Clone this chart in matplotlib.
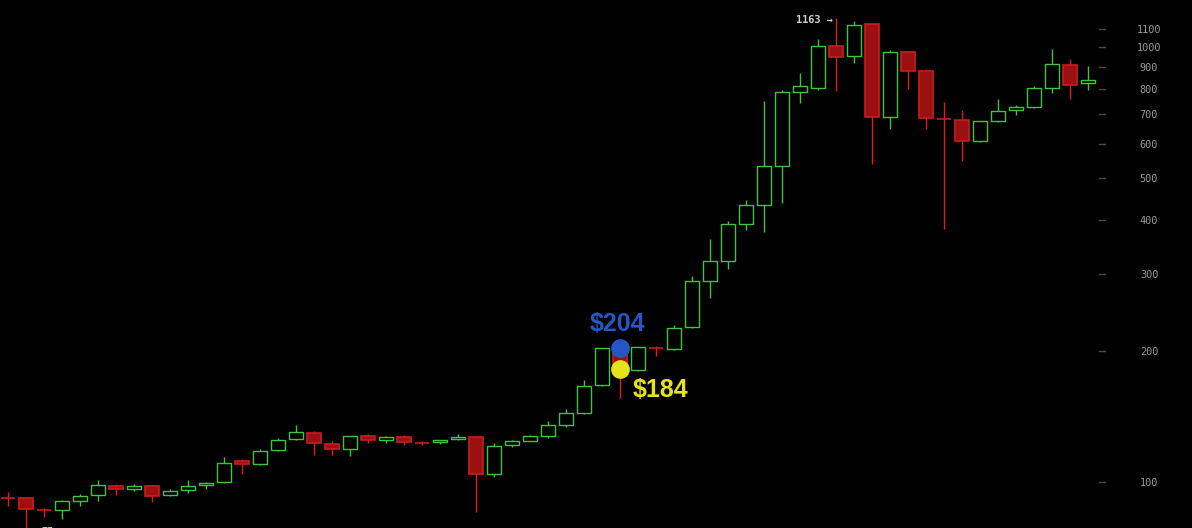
import numpy as np
import matplotlib.pyplot as plt

# OHLC, one candle per period (USD)
opens = [91.7, 91.7, 86.4, 86.1, 90.3, 93.2, 97.7, 96.2, 97.7, 93.2,
         95.7, 98.3, 99.8, 111.6, 109.8, 118.3, 125.3, 129.4, 122.1, 118.9,
         127.4, 124.7, 126.7, 122.7, 123.4, 125.3, 126.7, 104.2, 121.4, 124.3,
         127.8, 135.4, 144.3, 166.8, 203.5, 180.6, 203.0, 202.5, 227.5, 290.3,
         322.7, 392.5, 434.1, 533.7, 789.3, 806.2, 1003.7, 952.0, 1127.6, 691.5,
         972.4, 879.4, 684.2, 678.4, 609.0, 677.0, 715.3, 729.1, 806.2, 907.7, 825.2]
highs = [94.8, 92.4, 87.2, 90.9, 93.8, 101.1, 98.9, 98.8, 98.3, 96.2,
         101.1, 100.0, 114.2, 113.0, 119.1, 126.0, 135.2, 130.8, 124.0, 127.6,
         128.7, 127.4, 128.0, 124.0, 124.9, 128.7, 127.4, 122.7, 124.7, 128.3,
         138.1, 147.2, 171.6, 203.5, 206.0, 204.3, 205.5, 229.6, 297.6, 362.0,
         398.1, 445.0, 751.4, 796.5, 871.5, 1041.6, 1163.0, 1145.7, 1128.0, 982.7,
         977.5, 888.8, 747.5, 716.4, 676.0, 759.4, 734.5, 812.2, 987.9, 937.0, 902.9]
lows = [88.2, 76.0, 83.2, 82.3, 88.2, 90.6, 93.5, 95.5, 90.1, 92.7,
        94.5, 96.5, 99.3, 104.5, 109.6, 117.6, 125.0, 115.5, 115.5, 114.9,
        123.1, 123.1, 121.4, 121.8, 122.1, 124.7, 85.5, 102.5, 120.5, 124.0,
        126.4, 134.0, 143.6, 166.5, 156.2, 179.7, 195.2, 201.5, 226.3, 265.3,
        309.3, 380.2, 376.2, 438.7, 744.7, 797.7, 793.5, 920.3, 539.3, 649.0,
        802.0, 649.0, 382.2, 548.0, 604.8, 673.4, 698.8, 725.2, 785.1, 760.6, 797.7]
closes = [91.7, 86.8, 86.4, 90.4, 92.7, 98.3, 96.2, 97.7, 92.7, 95.2,
          97.7, 99.3, 110.4, 109.8, 117.6, 124.7, 130.1, 122.7, 118.9, 127.4,
          124.7, 126.7, 123.4, 122.7, 124.7, 126.7, 104.2, 120.8, 124.0, 127.4,
          135.0, 143.9, 166.0, 203.0, 182.0, 204.0, 203.0, 225.6, 289.3, 321.7,
          391.3, 432.7, 532.0, 786.8, 812.2, 1003.7, 950.0, 1121.7, 691.5, 972.4,
          882.2, 687.8, 684.2, 609.0, 674.9, 711.5, 726.8, 803.7, 912.5, 819.1, 838.4]

yticks = [100, 200, 300, 400, 500, 600, 700, 800, 900, 1000, 1100]
marked = 34          # highlighted candle
label_hi = "$204"
label_lo = "$184"
peak_label = "1163 \u2192"
low_label = "75"

GREEN = '#3ec43e'
RED_FILL = '#9b1111'
RED_EDGE = '#c81d1d'
RED_WICK = '#e01b1b'

o = np.array(opens)
h = np.array(highs)
l = np.array(lows)
c = np.array(closes)
x = np.arange(len(o))
up = c > o

fig = plt.figure(figsize=(11.92, 5.28), dpi=100, facecolor='black')
ax = fig.add_axes([0, 0, 1, 1])
ax.set_facecolor('black')
ax.set_yscale('log')
ax.set_xlim(-8 / 18, 1184 / 18)
ax.set_ylim(100 * 10 ** (-46 / 435), 100 * 10 ** (482 / 435))
for s in ax.spines.values():
    s.set_visible(False)
ax.set_xticks([])
ax.set_yticks([])
ax.minorticks_off()

# wicks
ax.vlines(x[up], l[up], h[up], color=GREEN, lw=1.0, zorder=1)
ax.vlines(x[~up], l[~up], h[~up], color=RED_WICK, lw=1.0, zorder=1)

# bodies
bot = np.minimum(o, c)
top = np.maximum(o, c)
ax.bar(x[up], top[up] - bot[up], bottom=bot[up], width=0.78,
       facecolor='black', edgecolor=GREEN, lw=1.0, zorder=2)
ax.bar(x[~up], top[~up] - bot[~up], bottom=bot[~up], width=0.78,
       facecolor=RED_FILL, edgecolor=RED_EDGE, lw=1.2, zorder=2)

# price axis on the right, drawn inside the plot
yt = ax.get_yaxis_transform()
for v in yticks:
    ax.plot([1099 / 1192, 1105 / 1192], [v, v], color='#4a4a4a', lw=1.0,
            transform=yt, clip_on=False)
    ax.text(1149 / 1192, v, str(v), transform=yt, ha='center',
            va='center_baseline', color='#9a9a9a', fontsize=7.4,
            family='DejaVu Sans Mono')

# highlighted candle markers
ax.plot(marked, o[marked], 'o', ms=13.5, color='#2456c6', zorder=4, mec='none')
ax.plot(marked, c[marked], 'o', ms=13.5, color='#e8e21c', zorder=4, mec='none')
ax.annotate(label_hi, (marked, o[marked]), xytext=(-3, 24),
            textcoords='offset pixels', ha='center', va='center',
            color='#2456c6', fontsize=18, fontweight='bold',
            family='Liberation Sans')
ax.annotate(label_lo, (marked, c[marked]), xytext=(40, -21),
            textcoords='offset pixels', ha='center', va='center',
            color='#e8e21c', fontsize=18, fontweight='bold',
            family='Liberation Sans')

# high / low annotations
imax = int(np.argmax(h))
ax.annotate(peak_label, (imax, h[imax]), xytext=(-3, -1),
            textcoords='offset pixels', ha='right', va='center_baseline',
            color='#d0d0d0', fontsize=7.4, fontweight='bold',
            family='DejaVu Sans Mono')
ax.text(1.83, 0.002, low_label, transform=ax.get_xaxis_transform(),
        ha='left', va='top', color='#bdbdbd', fontsize=7.4,
        fontweight='bold', family='DejaVu Sans Mono')

fig.savefig('out.png', dpi=100, facecolor='black')
